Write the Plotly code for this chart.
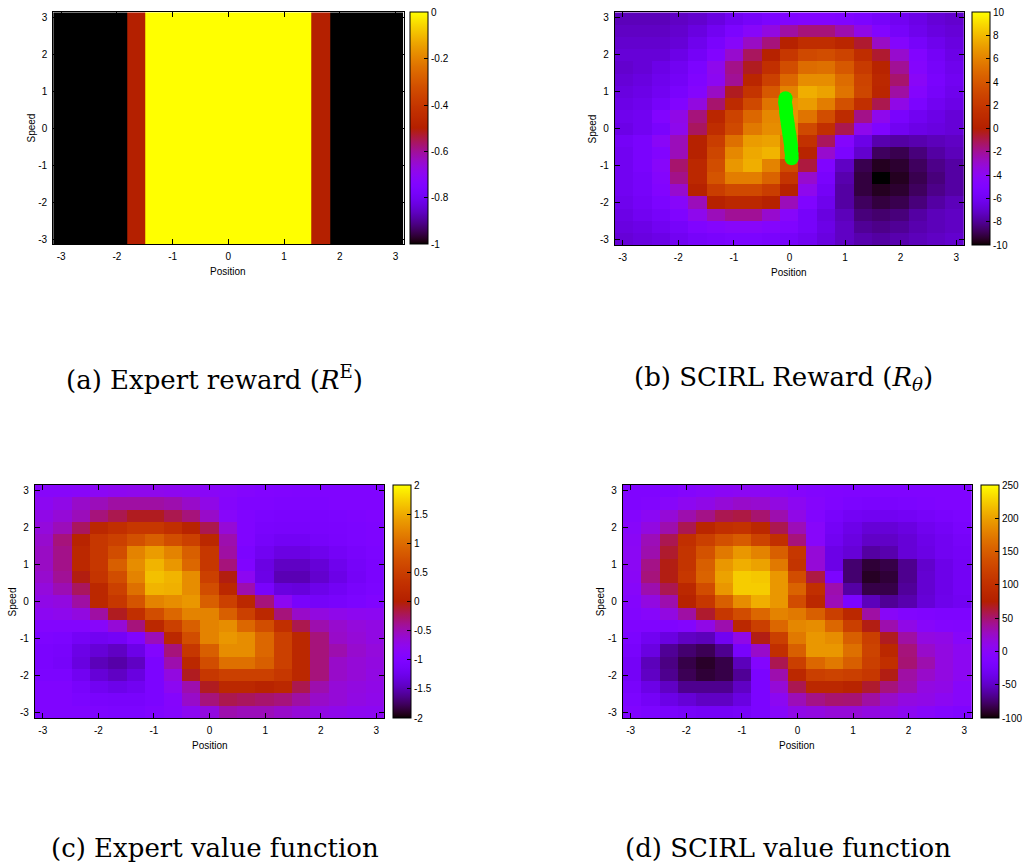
import numpy as np
import plotly.graph_objects as go

PI = np.pi
N = 19
W, H = 1027, 867

# ---------------- data ----------------
# (a) expert reward: piecewise constant bands along Position
expert_band_edges = [-PI, -1.82, -1.49, 1.49, 1.82, PI]
expert_reward = [-1.0, -0.5, 0.0, -0.5, -1.0]

# (b) SCIRL reward, 19x19, rows from Speed=+pi (top) to Speed=-pi (bottom)
scirl_reward = [
    [-7.4, -7.4, -7.4, -7.2, -7.0, -6.6, -6.0, -5.6, -5.2, -5.0, -4.8, -4.8, -5.0, -5.2, -5.6, -6.0, -6.4, -6.8, -7.0],
    [-7.2, -7.2, -7.2, -7.0, -6.6, -6.0, -5.2, -4.4, -3.4, -2.2, -1.6, -1.6, -2.4, -3.6, -4.8, -5.6, -6.2, -6.6, -6.8],
    [-7.0, -7.0, -7.0, -6.8, -6.2, -5.4, -4.4, -2.8, -1.6, 0.2, 1.2, 1.2, 0.6, -0.6, -2.8, -4.6, -5.6, -6.2, -6.6],
    [-6.8, -6.8, -6.8, -6.4, -5.8, -4.8, -3.0, -1.2, 0.2, 2.0, 3.2, 3.4, 2.8, 1.2, -0.6, -3.0, -4.8, -5.8, -6.4],
    [-7.0, -6.8, -6.4, -6.0, -5.2, -3.8, -1.8, -0.4, 1.4, 3.4, 5.0, 5.2, 4.0, 2.2, 0.4, -2.0, -4.6, -5.6, -6.2],
    [-6.8, -6.6, -6.2, -5.8, -5.0, -4.0, -2.0, 0.6, 2.6, 4.8, 6.4, 6.4, 5.0, 2.8, 0.8, -1.4, -4.2, -5.4, -6.0],
    [-6.6, -6.4, -6.0, -5.4, -4.6, -2.8, -0.4, 1.8, 4.0, 6.0, 7.6, 7.2, 5.4, 3.0, 0.6, -2.2, -4.6, -5.6, -6.2],
    [-6.4, -6.2, -5.6, -4.8, -3.4, -1.4, 1.0, 3.2, 5.4, 6.6, 7.0, 5.8, 3.6, 1.4, -1.0, -3.6, -5.2, -6.0, -6.4],
    [-6.2, -6.0, -4.8, -3.6, -1.6, 0.6, 2.8, 4.8, 6.2, 6.6, 5.4, 3.4, 1.0, -1.8, -3.8, -5.4, -6.0, -6.4, -6.8],
    [-6.4, -6.0, -5.4, -3.8, -1.2, 1.2, 3.2, 5.6, 6.4, 6.2, 3.2, 1.4, -1.0, -3.8, -5.0, -6.0, -6.4, -6.6, -6.8],
    [-5.8, -5.4, -4.2, -2.6, 0.2, 2.4, 5.2, 7.0, 7.2, 5.6, 1.6, -1.2, -4.6, -6.4, -7.6, -7.8, -7.6, -7.4, -7.2],
    [-6.0, -5.4, -4.8, -2.6, 0.2, 3.0, 6.2, 7.4, 7.8, 5.6, 0.4, -3.0, -5.2, -7.0, -8.8, -9.0, -8.4, -7.8, -7.4],
    [-6.0, -5.4, -4.4, -1.4, 0.8, 3.4, 6.8, 7.6, 6.0, 3.2, -0.8, -5.0, -7.2, -9.0, -9.6, -9.4, -8.8, -8.2, -7.8],
    [-6.0, -5.6, -4.6, -1.8, 0.8, 3.8, 5.8, 5.8, 4.6, 1.8, -3.0, -5.4, -7.6, -9.2, -10.0, -9.6, -9.0, -8.4, -7.8],
    [-6.0, -5.6, -4.8, -3.0, 0.2, 2.4, 3.2, 3.2, 2.4, 0.2, -3.8, -5.8, -7.8, -9.2, -9.6, -9.4, -8.8, -8.2, -7.8],
    [-6.2, -5.8, -5.2, -4.4, -2.6, 0.2, 0.8, 0.8, 0.2, -2.6, -5.0, -6.2, -7.8, -8.8, -9.2, -9.0, -8.4, -7.8, -7.4],
    [-6.4, -6.0, -5.6, -5.0, -3.8, -2.6, -2.0, -2.0, -3.0, -4.4, -5.6, -6.6, -7.4, -8.4, -8.6, -8.4, -7.8, -7.4, -7.2],
    [-6.6, -6.4, -6.0, -5.6, -5.0, -4.6, -4.4, -4.4, -4.6, -5.0, -5.6, -6.4, -7.2, -8.0, -8.2, -8.0, -7.6, -7.4, -7.2],
    [-6.8, -6.6, -6.4, -6.0, -5.6, -5.4, -5.2, -5.2, -5.4, -5.6, -6.0, -6.6, -7.2, -7.6, -7.8, -7.6, -7.4, -7.2, -7.0],
]

# expert trajectory samples drawn over (b)
traj_position = [-0.07, -0.08, -0.07, -0.06, -0.06, -0.05, -0.04, -0.03, -0.02, -0.01, 0.0, 0.01, 0.02, 0.03, 0.03, 0.04, 0.04]
traj_speed = [0.82, 0.72, 0.62, 0.52, 0.42, 0.32, 0.22, 0.12, 0.02, -0.08, -0.18, -0.28, -0.38, -0.48, -0.58, -0.68, -0.80]

# (c) expert value function
expert_value = [
    [-0.88, -0.88, -0.86, -0.82, -0.78, -0.76, -0.76, -0.78, -0.8, -0.84, -0.88, -0.92, -0.96, -0.98, -1.0, -1.0, -1.0, -1.0, -1.0],
    [-0.8, -0.72, -0.58, -0.52, -0.44, -0.44, -0.44, -0.48, -0.58, -0.72, -0.9, -1.0, -1.0, -1.02, -1.02, -1.02, -1.0, -1.0, -1.0],
    [-0.72, -0.64, -0.52, -0.32, -0.2, -0.08, -0.08, -0.2, -0.32, -0.58, -0.88, -1.0, -1.04, -1.06, -1.06, -1.06, -1.04, -1.02, -1.0],
    [-0.66, -0.52, -0.24, 0.16, 0.28, 0.4, 0.4, 0.28, 0.08, -0.2, -0.64, -1.0, -1.08, -1.1, -1.1, -1.08, -1.06, -1.04, -1.02],
    [-0.6, -0.32, 0.08, 0.4, 0.52, 0.72, 0.88, 0.68, 0.52, 0.16, -0.48, -1.0, -1.12, -1.18, -1.18, -1.12, -1.08, -1.04, -1.02],
    [-0.56, -0.36, 0.16, 0.4, 0.68, 1.2, 1.4, 1.2, 0.88, 0.4, -0.44, -1.04, -1.2, -1.3, -1.3, -1.24, -1.16, -1.1, -1.04],
    [-0.56, -0.36, 0.16, 0.4, 0.88, 1.28, 1.56, 1.36, 0.96, 0.4, -0.32, -1.0, -1.3, -1.44, -1.44, -1.36, -1.24, -1.14, -1.06],
    [-0.6, -0.4, -0.04, 0.36, 0.68, 1.2, 1.64, 1.56, 1.28, 0.52, -0.04, -0.8, -1.28, -1.5, -1.5, -1.4, -1.28, -1.16, -1.06],
    [-0.66, -0.5, -0.24, 0.16, 0.52, 1.04, 1.56, 1.54, 1.28, 0.68, 0.16, -0.48, -1.1, -1.32, -1.34, -1.26, -1.18, -1.1, -1.04],
    [-0.72, -0.68, -0.44, 0.16, 0.4, 0.76, 1.2, 1.28, 1.36, 0.88, 0.52, 0.16, -0.32, -0.8, -1.1, -1.14, -1.1, -1.04, -1.0],
    [-0.8, -0.76, -0.68, -0.44, -0.08, 0.28, 0.68, 0.96, 1.2, 1.2, 0.88, 0.52, 0.16, -0.32, -0.58, -0.68, -0.74, -0.78, -0.8],
    [-0.94, -0.94, -0.94, -0.88, -0.64, -0.32, 0.16, 0.52, 0.88, 1.2, 1.28, 0.96, 0.68, 0.28, -0.2, -0.48, -0.6, -0.66, -0.7],
    [-1.02, -1.04, -1.16, -1.2, -1.16, -1.0, -0.52, 0.16, 0.68, 1.2, 1.36, 1.28, 0.96, 0.52, 0.16, -0.32, -0.58, -0.64, -0.7],
    [-1.06, -1.1, -1.28, -1.36, -1.44, -1.28, -0.94, -0.32, 0.4, 0.88, 1.28, 1.28, 0.96, 0.52, 0.16, -0.32, -0.48, -0.6, -0.66],
    [-1.06, -1.12, -1.32, -1.48, -1.54, -1.44, -1.04, -0.48, 0.16, 0.68, 1.04, 1.04, 0.88, 0.52, 0.16, -0.32, -0.58, -0.64, -0.68],
    [-1.04, -1.04, -1.2, -1.36, -1.44, -1.32, -1.04, -0.68, -0.08, 0.4, 0.52, 0.52, 0.52, 0.4, 0.16, -0.32, -0.58, -0.64, -0.7],
    [-1.0, -1.0, -1.1, -1.2, -1.26, -1.2, -1.04, -0.8, -0.48, -0.08, 0.16, 0.16, 0.08, 0.16, -0.2, -0.48, -0.64, -0.68, -0.72],
    [-1.0, -1.0, -1.04, -1.08, -1.1, -1.1, -1.04, -0.9, -0.58, -0.32, -0.2, -0.24, -0.28, -0.32, -0.44, -0.58, -0.64, -0.7, -0.74],
    [-1.0, -1.0, -1.0, -1.02, -1.04, -1.04, -1.0, -0.92, -0.8, -0.68, -0.48, -0.52, -0.52, -0.58, -0.64, -0.7, -0.74, -0.78, -0.8],
]

# (d) SCIRL value function
scirl_value = [
    [-12, -12, -10, -6, -2, 2, 4, 4, 0, -4, -8, -10, -12, -12, -12, -12, -12, -12, -12],
    [-12, -8, -2, 6, 12, 19, 24, 22, 15, 5, -4, -12, -16, -18, -18, -16, -14, -12, -12],
    [-6, 4, 19, 33, 44, 57, 60, 50, 33, 12, -8, -21, -28, -30, -30, -28, -24, -20, -16],
    [-2, 15, 33, 57, 86, 100, 104, 89, 57, 30, -2, -26, -36, -44, -44, -40, -32, -26, -20],
    [2, 30, 57, 100, 120, 138, 148, 124, 100, 47, -2, -30, -40, -50, -50, -44, -36, -30, -24],
    [4, 33, 65, 106, 140, 173, 194, 180, 152, 110, 19, -37, -44, -62, -58, -44, -38, -30, -26],
    [4, 44, 71, 106, 152, 194, 208, 201, 173, 106, 19, -37, -75, -88, -84, -67, -48, -36, -28],
    [2, 47, 71, 110, 155, 201, 225, 222, 194, 134, 60, -16, -75, -92, -88, -67, -46, -36, -28],
    [-2, 33, 57, 89, 134, 194, 225, 225, 194, 155, 100, 33, -61, -84, -84, -64, -46, -36, -28],
    [-6, 15, 33, 80, 110, 152, 187, 208, 194, 134, 89, 30, -16, -54, -65, -58, -44, -35, -30],
    [-8, -2, 15, 36, 65, 110, 134, 159, 180, 173, 152, 120, 89, 36, 0, -8, -12, -14, -14],
    [-12, -12, -12, -7, 12, 33, 89, 120, 159, 183, 187, 159, 120, 71, 33, 12, -2, -7, -8],
    [-16, -30, -40, -51, -54, -30, 12, 71, 120, 173, 194, 187, 152, 120, 68, 36, 15, 12, -2],
    [-21, -40, -65, -75, -81, -67, -21, 24, 100, 152, 194, 194, 166, 124, 89, 47, 24, 15, 5],
    [-26, -54, -70, -84, -91, -84, -54, -7, 57, 120, 159, 173, 152, 120, 100, 49, 33, 15, 5],
    [-26, -51, -67, -81, -88, -84, -65, -16, 33, 89, 120, 124, 120, 110, 71, 36, 24, 15, 5],
    [-21, -37, -51, -67, -67, -67, -51, -16, 19, 57, 89, 89, 82, 65, 47, 33, 15, 12, -2],
    [-16, -26, -37, -44, -51, -51, -40, -16, 5, 30, 44, 50, 49, 36, 24, 15, 12, 5, -2],
    [-12, -16, -20, -24, -26, -26, -24, -16, -2, 12, 15, 19, 19, 15, 12, 5, -2, -7, -12],
]

axis_ticks = [-3, -2, -1, 0, 1, 2, 3]
cbar_a_ticks = [0, -0.2, -0.4, -0.6, -0.8, -1]
cbar_b_ticks = [10, 8, 6, 4, 2, 0, -2, -4, -6, -8, -10]
cbar_c_ticks = [2, 1.5, 1, 0.5, 0, -0.5, -1, -1.5, -2]
cbar_d_ticks = [250, 200, 150, 100, 50, 0, -50, -100]

# ---------------- gnuplot default palette (rgbformulae 7,5,15) ----------------
def pal(t):
    r = np.sqrt(t)
    g = t ** 3
    b = max(0.0, np.sin(2 * np.pi * t))
    return "rgb(%d,%d,%d)" % (round(255 * r), round(255 * g), round(255 * b))

colorscale = [[float(t), pal(t)] for t in np.linspace(0, 1, 129)]

edges = np.linspace(-PI, PI, N + 1)

def lab(v):
    return "%g" % v

TICKFONT = dict(family="Liberation Sans, Arial, sans-serif", size=10, color="black")

# panel pixel geometry: (left, right, top, bottom), colorbar left
panels = {
    "a": dict(box=(53.3, 404.3, 12.3, 244.3), cb=411.0),
    "b": dict(box=(616.0, 966.0, 12.3, 245.0), cb=974.3),
    "c": dict(box=(35.0, 385.0, 485.0, 718.0), cb=393.3),
    "d": dict(box=(624.0, 974.0, 485.0, 718.0), cb=982.7),
}

fig = go.Figure()
layout = dict(width=W, height=H, margin=dict(l=0, r=0, t=0, b=0),
              paper_bgcolor="white", plot_bgcolor="white", showlegend=False)

def cbar(key, ticks):
    l, r, t, b = panels[key]["box"]
    return dict(x=panels[key]["cb"] / W, xanchor="left", xpad=0, ypad=0,
                y=1 - (t + b) / 2 / H, yanchor="middle", len=(b - t) / H, lenmode="fraction",
                thickness=18, thicknessmode="pixels", outlinewidth=1, outlinecolor="black",
                ticks="inside", ticklen=4, tickcolor="black", tickwidth=1,
                tickvals=ticks, ticktext=[lab(v) for v in ticks], tickfont=TICKFONT)

names = ["a", "b", "c", "d"]
for i, key in enumerate(names):
    sfx = "" if i == 0 else str(i + 1)
    l, r, t, b = panels[key]["box"]
    common = dict(range=[-PI, PI], tickvals=axis_ticks, ticktext=[lab(v) for v in axis_ticks],
                  ticks="inside", ticklen=5, tickcolor="black", tickwidth=1,
                  showline=True, linecolor="black", linewidth=1, mirror="allticks",
                  showgrid=False, zeroline=False, tickfont=TICKFONT, fixedrange=True,
                  ticklabelstandoff=3)
    layout["xaxis" + sfx] = dict(common, domain=[l / W, r / W], anchor="y" + sfx)
    layout["yaxis" + sfx] = dict(common, domain=[1 - b / H, 1 - t / H], anchor="x" + sfx)
    fig.add_annotation(text="Position", xref="paper", yref="paper",
                       x=(l + r) / 2 / W, y=1 - (b + 27.5) / H, showarrow=False,
                       font=TICKFONT, xanchor="center", yanchor="middle")
    fig.add_annotation(text="Speed", xref="paper", yref="paper", textangle=-90,
                       x=(l - 22) / W, y=1 - (t + b) / 2 / H, showarrow=False,
                       font=TICKFONT, xanchor="center", yanchor="middle")

# (a)
fig.add_trace(go.Heatmap(x=expert_band_edges, y=[-PI, PI], z=[expert_reward],
                         colorscale=colorscale, zmin=-1, zmax=0, colorbar=cbar("a", cbar_a_ticks),
                         xaxis="x", yaxis="y", hoverinfo="skip"))
# (b)
fig.add_trace(go.Heatmap(x=edges, y=edges, z=scirl_reward[::-1],
                         colorscale=colorscale, zmin=-10, zmax=10, colorbar=cbar("b", cbar_b_ticks),
                         xaxis="x2", yaxis="y2", hoverinfo="skip"))
fig.add_trace(go.Scatter(x=traj_position, y=traj_speed, mode="markers",
                         marker=dict(color="#00ff00", size=14, line=dict(width=0)),
                         xaxis="x2", yaxis="y2", hoverinfo="skip"))
# (c)
fig.add_trace(go.Heatmap(x=edges, y=edges, z=expert_value[::-1],
                         colorscale=colorscale, zmin=-2, zmax=2, colorbar=cbar("c", cbar_c_ticks),
                         xaxis="x3", yaxis="y3", hoverinfo="skip"))
# (d)
fig.add_trace(go.Heatmap(x=edges, y=edges, z=scirl_value[::-1],
                         colorscale=colorscale, zmin=-100, zmax=250, colorbar=cbar("d", cbar_d_ticks),
                         xaxis="x4", yaxis="y4", hoverinfo="skip"))

# captions
CAPFONT = dict(family="DejaVu Serif, serif", size=26, color="black")
captions = [
    ("(a) Expert reward (<i>R</i><sup>E</sup>)", 215, 378),
    ("(b) SCIRL Reward (<i>R</i><sub><i>θ</i></sub>)", 785, 378),
    ("(c) Expert value function", 215, 848),
    ("(d) SCIRL value function", 790, 848),
]
for txt, cx, cy in captions:
    fig.add_annotation(text=txt, xref="paper", yref="paper", x=cx / W, y=1 - cy / H,
                       showarrow=False, font=CAPFONT, xanchor="center", yanchor="middle")

fig.update_layout(**layout)
fig.write_html("out.html", config={"displayModeBar": False, "staticPlot": True},
               post_script="document.body.style.margin='0';document.body.style.padding='0';document.body.style.overflow='hidden';")
